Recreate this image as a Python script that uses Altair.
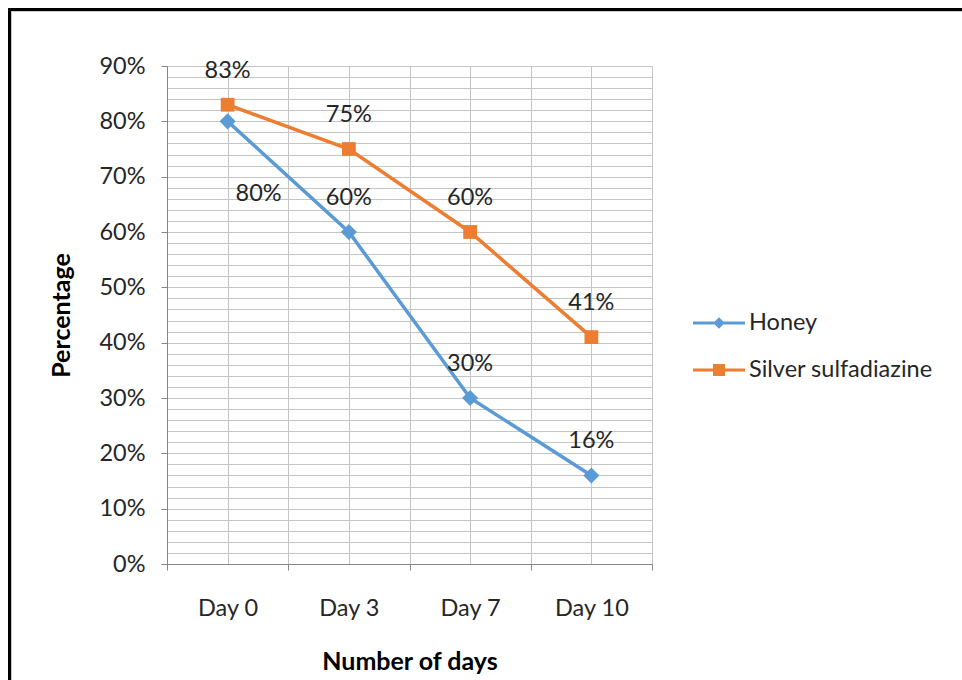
import json
import altair as alt
import pandas as pd

# Healing percentage by day for each treatment
days = ["Day 0", "Day 3", "Day 7", "Day 10"]
honey = [0.80, 0.60, 0.30, 0.16]
silver = [0.83, 0.75, 0.60, 0.41]
series_names = ["Honey", "Silver sulfadiazine"]
series_colors = ["#5B9BD5", "#ED7D31"]

# Axis positions (category centres and boundaries, 2% horizontal grid)
x_grid = [-0.5, 0, 0.5, 1, 1.5, 2, 2.5, 3, 3.5]
y_grid = [round(i * 0.02, 2) for i in range(46)]

rows = []
for i, d in enumerate(days):
    rows.append({"day": d, "idx": i, "series": series_names[0], "value": honey[i]})
    rows.append({"day": d, "idx": i, "series": series_names[1], "value": silver[i]})
df = pd.DataFrame(rows)

FONT = "Lato"
TXT = "#262626"
FS = 23.5
W, H = 485, 498
PAD_L, PAD_T = 167, 66

x_enc = alt.X(
    "idx:Q",
    scale=alt.Scale(domain=[-0.5, 3.5], nice=False, zero=False),
    axis=alt.Axis(
        values=x_grid,
        title="Number of days",
        grid=True,
        labelExpr=f"datum.value % 1 == 0 ? {json.dumps(days)}[datum.value] : ''",
        tickOpacity={"condition": {"test": "datum.value % 1 != 0", "value": 1}, "value": 0},
        labelOverlap=False,
        labelPadding=26,
        titlePadding=30,
    ),
)
y_enc = alt.Y(
    "value:Q",
    scale=alt.Scale(domain=[0, 0.9], nice=False),
    axis=alt.Axis(
        values=y_grid,
        title="Percentage",
        grid=True,
        labelExpr="round(datum.value * 100) % 10 == 0 ? format(datum.value, '.0%') : ''",
        tickOpacity={"condition": {"test": "round(datum.value * 100) % 10 == 0", "value": 1}, "value": 0},
        labelOverlap=False,
        labelPadding=16,
        titlePadding=24,
    ),
)

base = alt.Chart(df)
is_honey = alt.datum.series == series_names[0]
is_silver = alt.datum.series == series_names[1]

honey_line = base.transform_filter(is_honey).mark_line(
    strokeWidth=3.5, color=series_colors[0]
).encode(x=x_enc, y=y_enc)
silver_line = base.transform_filter(is_silver).mark_line(
    strokeWidth=3.5, color=series_colors[1]
).encode(x=x_enc, y=y_enc)

honey_pts = base.transform_filter(is_honey).mark_point(
    shape="diamond", filled=True, size=260, opacity=1, color=series_colors[0]
).encode(x=x_enc, y=y_enc)
silver_pts = base.transform_filter(is_silver).mark_point(
    shape="square", filled=True, size=190, opacity=1, color=series_colors[1]
).encode(x=x_enc, y=y_enc)

label_text = alt.Text("value:Q", format=".0%")

labels_above = base.transform_filter(
    is_silver | (alt.datum.idx > 0)
).mark_text(font=FONT, fontSize=FS, color=TXT, dy=-34, baseline="middle").encode(
    x=x_enc, y=y_enc, text=label_text
)
label_day0_honey = base.transform_filter(
    is_honey & (alt.datum.idx == 0)
).mark_text(font=FONT, fontSize=FS, color=TXT, dx=31, dy=73, baseline="middle").encode(
    x=x_enc, y=y_enc, text=label_text
)

# Legend symbols: a short line with the series marker in its middle
honey_sym = ("M-1,-0.058L-0.162,-0.058L0,-0.22L0.162,-0.058L1,-0.058L1,0.058"
             "L0.162,0.058L0,0.22L-0.162,0.058L-1,0.058Z")
silver_sym = ("M-1,-0.058L-0.23,-0.058L-0.23,-0.23L0.23,-0.23L0.23,-0.058L1,-0.058"
              "L1,0.058L0.23,0.058L0.23,0.23L-0.23,0.23L-0.23,0.058L-1,0.058Z")

legend_props = dict(
    title=None,
    orient="none",
    legendX=526,
    legendY=231,
    symbolSize=2704,
    symbolOpacity=1,
    symbolStrokeWidth=0,
    labelFont=FONT,
    labelFontSize=FS,
    labelColor=TXT,
    labelOffset=4,
    labelLimit=0,
    rowPadding=9,
)
legend_df = pd.DataFrame({"key": series_names})
legend_layer = alt.Chart(legend_df).mark_point(filled=True, opacity=0).encode(
    x=alt.value(-2000),
    y=alt.value(-2000),
    color=alt.Color(
        "key:N",
        scale=alt.Scale(domain=series_names, range=series_colors),
        legend=alt.Legend(**legend_props),
    ),
    shape=alt.Shape(
        "key:N",
        scale=alt.Scale(domain=series_names, range=[honey_sym, silver_sym]),
        legend=alt.Legend(**legend_props),
    ),
)

# Page frame: black top and left edges with a faint inner line
one = pd.DataFrame({"k": [0]})
frame_top = alt.Chart(one).mark_rule(color="black", strokeWidth=3).encode(
    x=alt.value(-PAD_L + 8), x2=alt.value(962), y=alt.value(-PAD_T + 9.5)
)
frame_left = alt.Chart(one).mark_rule(color="black", strokeWidth=3).encode(
    x=alt.value(-PAD_L + 9.5), y=alt.value(-PAD_T + 8), y2=alt.value(700)
)
inner_top = alt.Chart(one).mark_rule(color="#c8c8c8", strokeWidth=1).encode(
    x=alt.value(-PAD_L + 11), x2=alt.value(962), y=alt.value(-PAD_T + 11.5)
)
inner_left = alt.Chart(one).mark_rule(color="#c8c8c8", strokeWidth=1).encode(
    x=alt.value(-PAD_L + 11.5), y=alt.value(-PAD_T + 11), y2=alt.value(700)
)

chart = alt.layer(
    frame_top, frame_left, inner_top, inner_left,
    honey_line, silver_line, honey_pts, silver_pts,
    labels_above, label_day0_honey, legend_layer,
).properties(
    width=W,
    height=H,
    autosize=alt.AutoSizeParams(type="none"),
    padding={"left": PAD_L, "top": PAD_T, "right": 962 - PAD_L - W, "bottom": 680 - PAD_T - H},
    background="white",
).configure_view(
    stroke=None
).configure_axis(
    labelFont=FONT,
    labelFontSize=FS,
    labelColor=TXT,
    titleFont=FONT,
    titleFontSize=25,
    titleFontWeight="bold",
    titleColor="black",
    gridColor="#c4c4c4",
    gridWidth=1,
    domainColor="#868686",
    domainWidth=1,
    tickColor="#868686",
    tickSize=6,
)

chart.save("out.html", embed_options={"renderer": "svg", "actions": False})
